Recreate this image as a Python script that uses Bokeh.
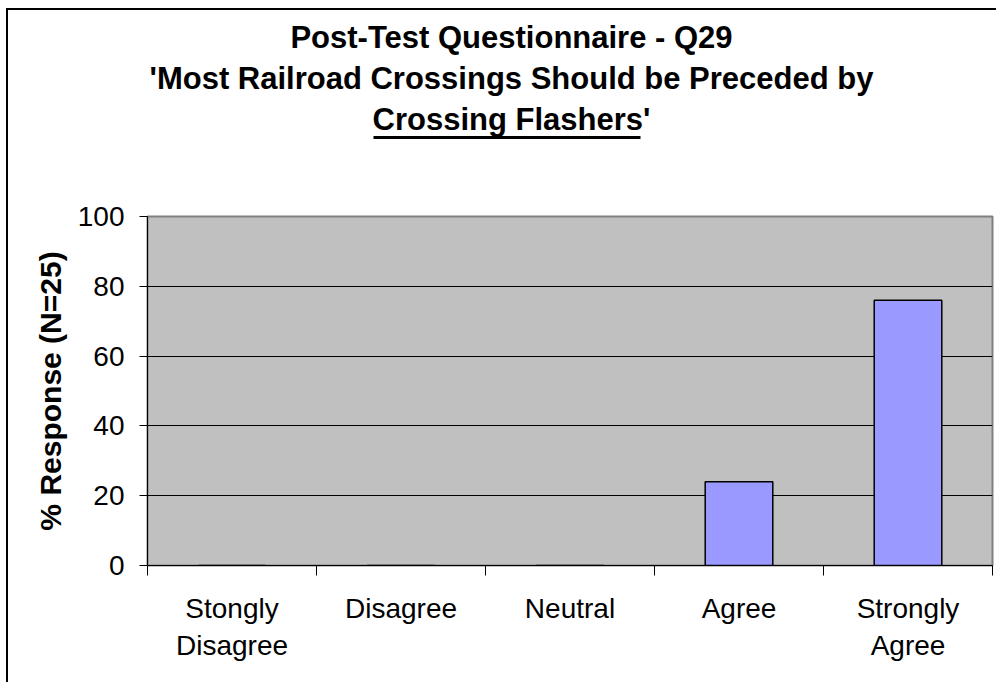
from bokeh.plotting import figure
from bokeh.layouts import column
from bokeh.models import Range1d, FixedTicker, ColumnDataSource
from bokeh.core.properties import value
from bokeh.embed import file_html
from bokeh.resources import INLINE

# ---- data ----
categories = ["Stongly\nDisagree", "Disagree", "Neutral", "Agree", "Strongly\nAgree"]
responses = [0, 0, 0, 24, 76]
y_ticks = [0, 20, 40, 60, 80, 100]
title_lines = [
    "Post-Test Questionnaire - Q29",
    "'Most Railroad Crossings Should be Preceded by",
    "Crossing Flashers'",
]
y_label = "% Response (N=25)"

FONT = "Liberation Sans"
W = 988          # content width
H_TITLE = 140    # title strip height
H_CHART = 532    # chart height
BORDER_L, BORDER_R = 139, 4

# ---------------- title strip (frame aligned with the chart frame) ----------------
t = figure(width=W, height=H_TITLE, x_range=Range1d(147, 992), y_range=Range1d(150, 10),
           x_axis_type=None, y_axis_type=None, output_backend="svg", toolbar_location=None,
           min_border_left=BORDER_L, min_border_right=BORDER_R, min_border_top=0,
           min_border_bottom=0)
t.outline_line_color = None
t.grid.visible = False
t.background_fill_color = "white"
t.border_fill_color = "white"

title_src = ColumnDataSource(dict(x=[511] * 3, y=[37, 78, 119], text=title_lines))
t.text(x="x", y="y", text="text", source=title_src, text_align="center",
       text_baseline="alphabetic", text_font=value(FONT), text_font_size=value("31px"),
       text_font_style="bold", text_color="black")
# underline of "Crossing Flashers"
t.segment(x0=[373], y0=[137], x1=[640], y1=[137], line_color="black", line_width=3)

# ---------------- chart ----------------
centers = [i + 0.5 for i in range(len(categories))]
bounds = [float(i) for i in range(len(categories) + 1)]
src = ColumnDataSource(dict(x=centers, top=responses))

p = figure(
    width=W, height=H_CHART,
    x_range=Range1d(0, len(categories)), y_range=Range1d(0, 100),
    output_backend="svg", toolbar_location=None,
    min_border_left=BORDER_L, min_border_right=BORDER_R, min_border_top=66, min_border_bottom=117,
)
p.background_fill_color = "#C0C0C0"
p.border_fill_color = "white"
p.outline_line_color = "#808080"
p.outline_line_width = 2

p.vbar(x="x", top="top", width=0.4, bottom=0, source=src,
       fill_color="#9999FF", line_color="black", line_width=1.5)

xa = p.xaxis[0]
xa.ticker = FixedTicker(ticks=centers, minor_ticks=bounds)
xa.major_label_overrides = {c: lab for c, lab in zip(centers, categories)}
xa.major_tick_out = 0
xa.major_tick_in = 0
xa.minor_tick_out = 10
xa.minor_tick_in = 0
xa.minor_tick_line_color = "black"
xa.axis_line_color = "black"
xa.major_label_text_font = FONT
xa.major_label_text_font_size = "28px"
xa.major_label_text_color = "black"
xa.major_label_text_line_height = 1.22
xa.major_label_standoff = 17

ya = p.yaxis[0]
ya.ticker = FixedTicker(ticks=y_ticks)
ya.major_tick_out = 8
ya.major_tick_in = 0
ya.minor_tick_out = 0
ya.minor_tick_in = 0
ya.axis_line_color = "black"
ya.major_tick_line_color = "black"
ya.major_label_text_font = FONT
ya.major_label_text_font_size = "28px"
ya.major_label_text_color = "black"
ya.major_label_standoff = 15
ya.axis_label = y_label
ya.axis_label_text_font = FONT
ya.axis_label_text_font_size = "30px"
ya.axis_label_text_font_style = "bold"
ya.axis_label_text_color = "black"
ya.axis_label_standoff = 8

p.xgrid.visible = False
p.ygrid.ticker = FixedTicker(ticks=y_ticks[1:-1])
p.ygrid.grid_line_color = "black"
p.ygrid.grid_line_width = 1

layout = column(t, p, spacing=0)
layout.styles = {"margin-left": "6px", "margin-top": "8px",
                 "border-left": "2px solid black", "border-top": "2px solid black"}

open("out.html", "w").write(file_html(layout, INLINE))
